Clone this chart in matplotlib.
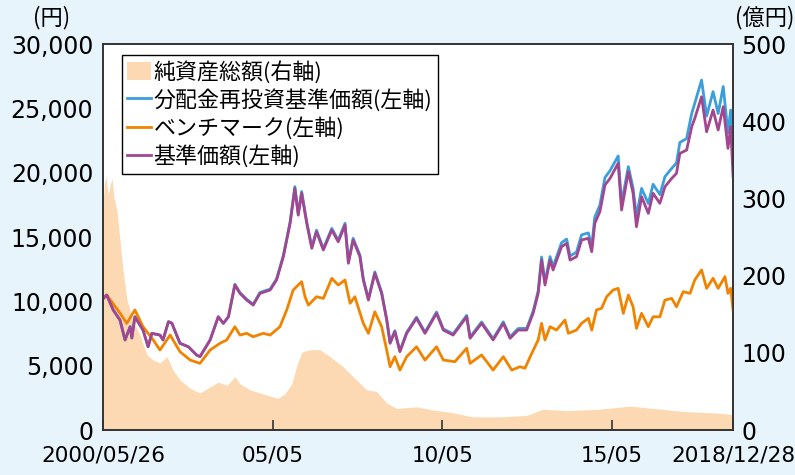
import numpy as np
import matplotlib.pyplot as plt
from matplotlib.patches import Patch
from matplotlib.lines import Line2D

# dates as decimal years
nav_t = [2000.40, 2000.51, 2000.70, 2000.90, 2001.05, 2001.20, 2001.25, 2001.34, 2001.58, 2001.73,
         2001.84, 2002.08, 2002.17, 2002.33, 2002.43, 2002.67, 2002.92, 2003.16, 2003.26, 2003.56,
         2003.80, 2003.95, 2004.10, 2004.29, 2004.44, 2004.64, 2004.83, 2005.03, 2005.33, 2005.52,
         2005.72, 2005.92, 2006.06, 2006.16, 2006.26, 2006.41, 2006.56, 2006.70, 2006.90, 2007.15,
         2007.34, 2007.54, 2007.64, 2007.78, 2007.98, 2008.08, 2008.23, 2008.42, 2008.62, 2008.77,
         2008.87, 2009.01, 2009.16, 2009.36, 2009.65, 2009.90, 2010.24, 2010.44, 2010.73, 2011.13,
         2011.23, 2011.57, 2011.91, 2012.21, 2012.41, 2012.65, 2012.90, 2013.09, 2013.24, 2013.34,
         2013.44, 2013.59, 2013.68, 2013.93, 2014.08, 2014.18, 2014.37, 2014.52, 2014.72, 2014.82,
         2014.91, 2015.06, 2015.21, 2015.36, 2015.60, 2015.70, 2015.90, 2016.04, 2016.14, 2016.29,
         2016.49, 2016.63, 2016.83, 2016.98, 2017.18, 2017.32, 2017.42, 2017.62, 2017.77, 2017.86,
         2018.06, 2018.21, 2018.40, 2018.55, 2018.70, 2018.84, 2018.92, 2018.99]

# 基準価額 (円)
nav = [10200, 10490, 9330, 8550, 7000, 8030, 7150, 8800, 7770, 6470,
       7515, 7380, 7000, 8420, 8310, 6740, 6470, 5830, 5700, 7000,
       8800, 8290, 8800, 11270, 10620, 10100, 9710, 10620, 10880, 11660,
       13470, 16070, 18780, 16700, 18400, 16070, 14120, 15410, 13990, 15540,
       14630, 15930, 12960, 14770, 13470, 11660, 10100, 12180, 10620, 8550,
       6740, 7640, 6090, 7515, 8680, 7515, 9070, 7770, 7380, 8800,
       7130, 8290, 7000, 8290, 7130, 7770, 7770, 9070, 10620, 13210,
       11270, 13210, 12440, 14250, 14510, 13210, 13470, 14770, 14900, 13860,
       16070, 16970, 19040, 19560, 20730, 17100, 20080, 18400, 15800, 18130,
       16840, 18400, 17620, 18910, 19560, 19950, 21500, 21760, 23570, 24220,
       25900, 23180, 24870, 23320, 25130, 21890, 23570, 19690]

# 分配金再投資基準価額 (円)
reinv = [10200, 10490, 9330, 8550, 7000, 8030, 7150, 8800, 7770, 6470,
         7515, 7380, 7000, 8420, 8310, 6740, 6470, 5830, 5700, 7000,
         8800, 8290, 8800, 11330, 10680, 10160, 9770, 10690, 10950, 11740,
         13560, 16180, 18920, 16820, 18540, 16190, 14230, 15530, 14100, 15670,
         14750, 16070, 13070, 14900, 13590, 11760, 10190, 12290, 10720, 8630,
         6810, 7720, 6150, 7590, 8770, 7600, 9170, 7860, 7470, 8910,
         7220, 8400, 7100, 8410, 7240, 7890, 7900, 9230, 10820, 13450,
         11500, 13480, 12700, 14560, 14840, 13530, 13820, 15170, 15320, 14270,
         16550, 17480, 19620, 20160, 21300, 17640, 20470, 18800, 16580, 18780,
         17600, 19100, 18300, 19690, 20340, 20750, 22350, 22650, 24610, 25400,
         27200, 24400, 26300, 24600, 26700, 23100, 24870, 20800]

bench_t = [2000.40, 2000.51, 2000.90, 2001.10, 2001.34, 2001.58, 2001.88, 2002.08, 2002.38, 2002.67,
           2002.97, 2003.26, 2003.56, 2003.85, 2004.05, 2004.29, 2004.44, 2004.64, 2004.83, 2005.13,
           2005.33, 2005.62, 2005.82, 2006.01, 2006.26, 2006.36, 2006.46, 2006.70, 2006.90, 2007.15,
           2007.34, 2007.54, 2007.69, 2007.83, 2008.08, 2008.23, 2008.42, 2008.62, 2008.77, 2008.87,
           2009.01, 2009.16, 2009.36, 2009.65, 2009.90, 2010.24, 2010.44, 2010.78, 2011.13, 2011.23,
           2011.57, 2011.91, 2012.21, 2012.46, 2012.70, 2012.85, 2013.05, 2013.24, 2013.34, 2013.44,
           2013.59, 2013.78, 2014.03, 2014.13, 2014.37, 2014.52, 2014.72, 2014.82, 2014.96, 2015.11,
           2015.26, 2015.45, 2015.60, 2015.75, 2015.90, 2016.04, 2016.14, 2016.29, 2016.49, 2016.63,
           2016.83, 2016.98, 2017.18, 2017.32, 2017.52, 2017.72, 2017.86, 2018.06, 2018.21, 2018.40,
           2018.55, 2018.75, 2018.84, 2018.92, 2018.99]

# ベンチマーク (円)
bench = [10300, 10490, 9090, 8290, 9330, 8030, 7000, 6220, 7380, 6090,
         5440, 5180, 6220, 6740, 7000, 8030, 7380, 7515, 7250, 7515,
         7380, 8030, 9330, 10880, 11530, 10360, 9710, 10360, 10230, 11790,
         11270, 11660, 9850, 10360, 8290, 7515, 9190, 8030, 6220, 4920,
         5700, 4660, 5700, 6470, 5440, 6470, 5440, 5310, 6350, 5180,
         5830, 4660, 5700, 4660, 4920, 4800, 5960, 7000, 8290, 7000,
         8030, 7770, 8550, 7515, 7770, 8290, 8680, 7770, 9330, 9460,
         10360, 10880, 11010, 9070, 10490, 9580, 7900, 9070, 8030, 8800,
         8800, 10100, 10230, 9580, 10750, 10620, 11660, 12440, 11010, 11790,
         11010, 11920, 10620, 11010, 9330]

assets_t = [2000.40, 2000.44, 2000.49, 2000.55, 2000.61, 2000.67, 2000.72, 2000.81, 2000.90, 2000.99,
            2001.11, 2001.28, 2001.49, 2001.70, 2001.87, 2002.08, 2002.29, 2002.46, 2002.67, 2002.97,
            2003.26, 2003.64, 2003.79, 2004.06, 2004.29, 2004.44, 2004.74, 2005.03, 2005.33, 2005.56,
            2005.77, 2005.98, 2006.12, 2006.27, 2006.51, 2006.80, 2007.10, 2007.48, 2007.78, 2008.18,
            2008.47, 2008.77, 2009.06, 2009.65, 2010.13, 2010.64, 2011.31, 2012.11, 2012.91, 2013.38,
            2014.09, 2015.06, 2015.95, 2016.63, 2017.52, 2018.51, 2018.99]

# 純資産総額 (億円)
assets = [290, 320, 328, 305, 317, 326, 300, 285, 246, 207,
          168, 142, 123, 97, 91, 87, 95, 78, 65, 54,
          48, 58, 62, 58, 69, 60, 52, 48, 44, 41,
          47, 61, 84, 101, 104, 104, 95, 82, 69, 52,
          50, 35, 28, 30, 26, 23, 17, 17, 19, 27,
          25, 27, 31, 28, 24, 22, 20]

tick_pos = [2000.40, 2005.41, 2010.41, 2015.41, 2018.99]
tick_labels = ['2000/05/26', '05/05', '10/05', '15/05', '2018/12/28']

jp = ['Noto Sans CJK JP', 'DejaVu Sans']
plt.rcParams['font.family'] = ['DejaVu Sans', 'Noto Sans CJK JP']

c_fill = '#fcd9b2'
c_blue = '#3a9fdb'
c_orange = '#f08300'
c_purple = '#a2468f'

fig = plt.figure(figsize=(7.95, 4.75), dpi=100, facecolor='#e8f4fc')
ax = fig.add_axes([0.1296, 0.0947, 0.7925, 0.8126])
ax2 = ax.twinx()

ax2.fill_between(assets_t, assets, color=c_fill, lw=0)
ax2.set_ylim(0, 500)
ax2.set_yticks(range(0, 501, 100))
ax2.patch.set_visible(True)
ax2.patch.set_facecolor('white')
ax.set_zorder(ax2.get_zorder() + 1)
ax.patch.set_visible(False)

ax.plot(nav_t, reinv, color=c_blue, lw=2.0)
ax.plot(bench_t, bench, color=c_orange, lw=2.0)
ax.plot(nav_t, nav, color=c_purple, lw=2.0)

ax.set_xlim(2000.40, 2018.99)
ax.set_ylim(0, 30000)
ax.set_yticks(range(0, 30001, 5000))
ax.set_yticklabels([f'{v:,}' for v in range(0, 30001, 5000)])
ax.set_xticks(tick_pos)
ax.set_xticklabels(tick_labels)

ax.tick_params(axis='y', length=0, labelsize=17, pad=7)
ax2.tick_params(axis='y', length=0, labelsize=17, pad=6)
ax.tick_params(axis='x', direction='in', length=7, width=1.2, labelsize=15.5, pad=11, color='#333333')
for a in (ax, ax2):
    for s in a.spines.values():
        s.set_color('#333333')
        s.set_linewidth(1.2)

fig.text(52 / 795, 1 - 18 / 475, '(円)', family=jp, fontsize=16, ha='center', va='center')
fig.text(765 / 795, 1 - 18 / 475, '(億円)', family=jp, fontsize=16, ha='center', va='center')

handles = [Patch(facecolor=c_fill, edgecolor='none'),
           Line2D([], [], color=c_blue, lw=2),
           Line2D([], [], color=c_orange, lw=2),
           Line2D([], [], color=c_purple, lw=2)]
labels = ['純資産総額(右軸)', '分配金再投資基準価額(左軸)', 'ベンチマーク(左軸)', '基準価額(左軸)']
leg = ax.legend(handles, labels, loc='upper left', bbox_to_anchor=(0.0297, 0.9715), borderaxespad=0,
                prop={'family': jp, 'size': 15.8}, fancybox=False, framealpha=1, edgecolor='black',
                handlelength=1.1, handleheight=0.9, handletextpad=0.1, labelspacing=0.25, borderpad=0.25)
leg.get_frame().set_linewidth(1.0)

fig.savefig('out.png', dpi=100, facecolor=fig.get_facecolor())
